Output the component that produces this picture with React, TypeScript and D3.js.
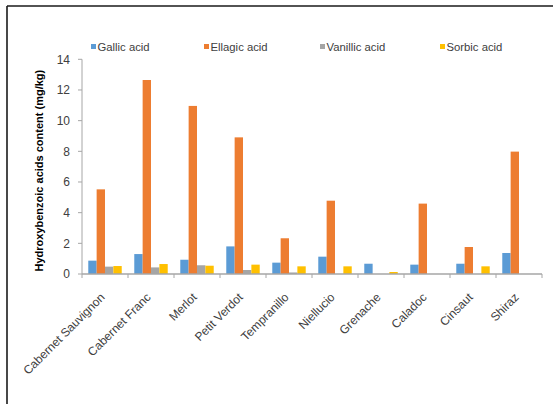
import React from "react";
import * as d3 from "d3";

const categories = [
  "Cabernet Sauvignon",
  "Cabernet Franc",
  "Merlot",
  "Petit Verdot",
  "Tempranillo",
  "Niellucio",
  "Grenache",
  "Caladoc",
  "Cinsaut",
  "Shiraz",
];

const seriesNames = ["Gallic acid", "Ellagic acid", "Vanillic acid", "Sorbic acid"];
const seriesColors = ["#5B9BD5", "#ED7D31", "#A5A5A5", "#FFC000"];

const gallic = [0.87, 1.3, 0.93, 1.8, 0.74, 1.13, 0.67, 0.61, 0.67, 1.37];
const ellagic = [5.52, 12.65, 10.96, 8.91, 2.33, 4.78, 0, 4.59, 1.76, 7.98];
const vanillic = [0.48, 0.43, 0.57, 0.26, 0.1, 0, 0, 0, 0, 0];
const sorbic = [0.52, 0.65, 0.54, 0.61, 0.5, 0.5, 0.13, 0, 0.5, 0];

const yTicks = [0, 2, 4, 6, 8, 10, 12, 14];
const yTitle = "Hydroxybenzoic acids content (mg/kg)";

const W = 553;
const H = 404;
const FONT = "'Liberation Sans', Arial, sans-serif";

export default function App() {
  const plot = { left: 82, right: 542, top: 59.3, bottom: 274 };
  const series = [gallic, ellagic, vanillic, sorbic];

  const x0 = d3
    .scaleBand<string>()
    .domain(categories)
    .range([plot.left, plot.right])
    .paddingInner(0)
    .paddingOuter(0);
  const bw = x0.bandwidth();
  const pad = (bw - bw * (4 / 5.5)) / 2;
  const x1 = d3
    .scaleBand<number>()
    .domain([0, 1, 2, 3])
    .range([pad, bw - pad])
    .padding(0);
  const y = d3.scaleLinear().domain([0, 14]).range([plot.bottom, plot.top]);

  const legendX = [91, 204, 320, 440];
  const axisColor = "#A6A6A6";

  return (
    <svg
      width={W}
      height={H}
      style={{ position: "absolute", left: 0, top: 0, background: "#fff" }}
    >
      {/* outer frame, top and left edges */}
      <line x1={7} y1={6} x2={W} y2={6} stroke="#1a1a1a" strokeWidth={1.6} />
      <line x1={7} y1={6} x2={7} y2={H} stroke="#1a1a1a" strokeWidth={1.6} />

      {/* legend */}
      {seriesNames.map((name, i) => (
        <g key={name}>
          <rect x={legendX[i]} y={44} width={5} height={5} fill={seriesColors[i]} />
          <text
            x={legendX[i] + 6.5}
            y={50.5}
            fontFamily={FONT}
            fontSize={11.3}
            fill="#404040"
          >
            {name}
          </text>
        </g>
      ))}

      {/* y axis */}
      <line x1={plot.left} y1={plot.top} x2={plot.left} y2={plot.bottom} stroke={axisColor} strokeWidth={1} />
      {yTicks.map((t) => (
        <g key={t}>
          <line x1={plot.left - 4} x2={plot.left} y1={y(t)} y2={y(t)} stroke={axisColor} />
          <text
            x={plot.left - 12}
            y={y(t)}
            dy="0.35em"
            textAnchor="end"
            fontFamily={FONT}
            fontSize={12}
            fill="#404040"
          >
            {t}
          </text>
        </g>
      ))}
      <text
        transform={`translate(43,${(plot.top + plot.bottom) / 2 + 4}) rotate(-90)`}
        textAnchor="middle"
        fontFamily={FONT}
        fontSize={11}
        fontWeight="bold"
        fill="#000"
      >
        {yTitle}
      </text>

      {/* bars */}
      {categories.map((c, ci) => (
        <g key={c} transform={`translate(${x0(c)},0)`}>
          {series.map((vals, si) =>
            vals[ci] > 0 ? (
              <rect
                key={si}
                x={x1(si)}
                y={y(vals[ci])}
                width={x1.bandwidth()}
                height={y(0) - y(vals[ci])}
                fill={seriesColors[si]}
              />
            ) : null
          )}
        </g>
      ))}

      {/* x axis */}
      <line x1={plot.left} y1={plot.bottom} x2={plot.right} y2={plot.bottom} stroke={axisColor} strokeWidth={1.5} />
      {categories.map((c) => (
        <line
          key={"t" + c}
          x1={x0(c) as number}
          x2={x0(c) as number}
          y1={plot.bottom}
          y2={plot.bottom + 4}
          stroke={axisColor}
        />
      ))}
      <line x1={plot.right} x2={plot.right} y1={plot.bottom} y2={plot.bottom + 4} stroke={axisColor} />
      {categories.map((c) => {
        const cx = (x0(c) as number) + bw / 2;
        return (
          <text
            key={"l" + c}
            transform={`translate(${cx + 0.5},${plot.bottom + 24}) rotate(-45)`}
            textAnchor="end"
            fontFamily={FONT}
            fontSize={12}
            fill="#404040"
          >
            {c}
          </text>
        );
      })}
    </svg>
  );
}
